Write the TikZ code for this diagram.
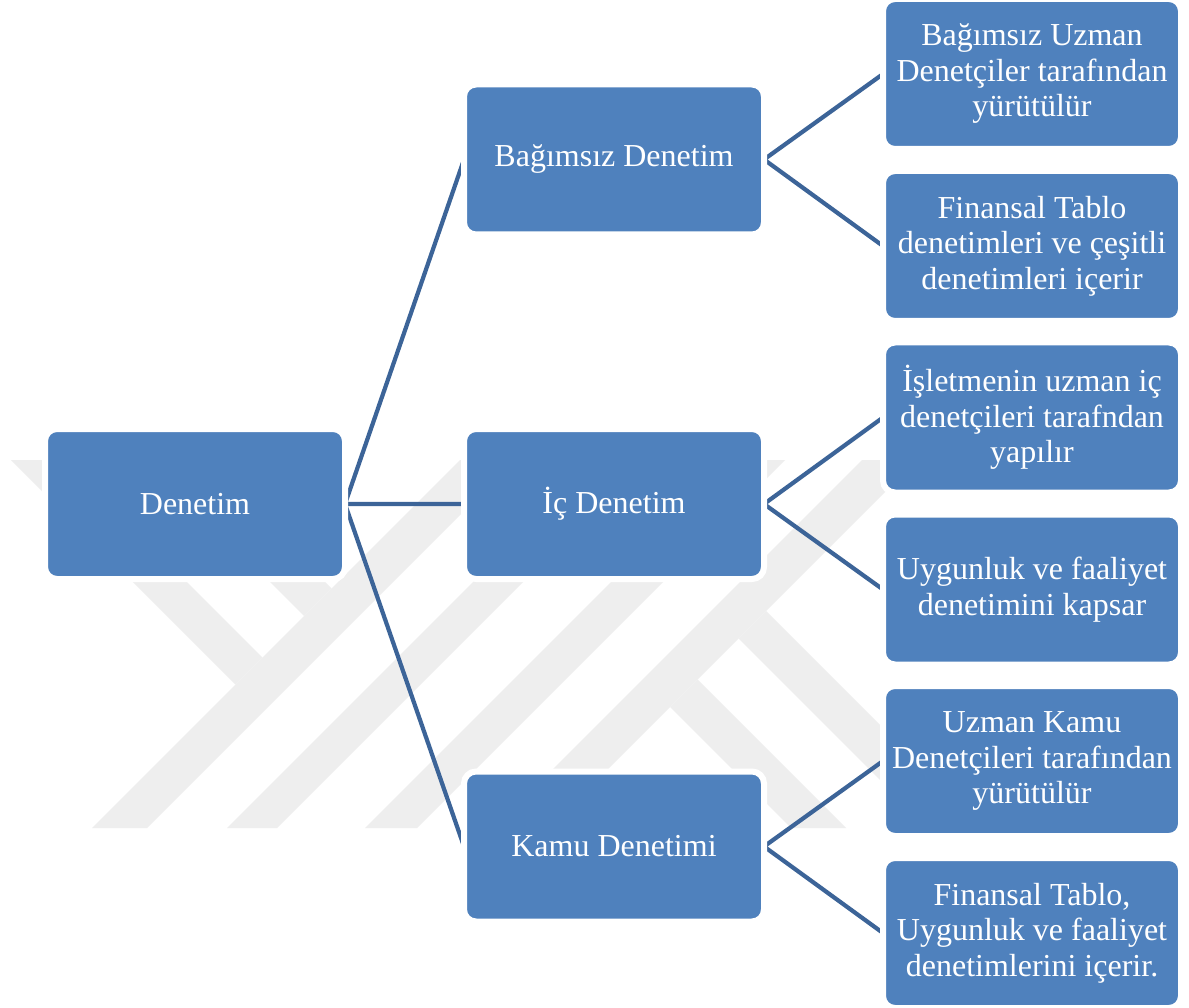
\documentclass[tikz,border=0pt]{standalone}
\usepackage{fontspec}
\setmainfont{Liberation Serif}
\definecolor{boxblue}{RGB}{79,129,189}
\definecolor{linkblue}{RGB}{60,100,152}
\definecolor{markgray}{RGB}{238,238,238}
\pgfdeclarelayer{watermark}
\pgfdeclarelayer{links}
\pgfsetlayers{watermark,links,main}
\begin{document}
\begin{tikzpicture}[x=1pt,y=-1pt,
  box/.style={draw=white, line width=6pt, fill=boxblue, rounded corners=12pt,
    text=white, align=center, font=\fontsize{32}{35.5}\selectfont,
    inner sep=0pt, outer sep=0pt, minimum width=300pt, minimum height=150pt},
  leaf/.style={box, minimum width=298pt},
  link/.style={draw=linkblue, line width=4.2pt}]
\useasboundingbox (0,0) rectangle (1189,1008);

% faint emblem behind the chart: diagonal bands
\begin{pgfonlayer}{watermark}
  \fill[white] (0,0) rectangle (1189,1008);
  % bands rising to the right
  \fill[markgray] (460,460) -- (515,460) -- (147,828) -- (92,828) -- cycle;
  \fill[markgray] (595,460) -- (645,460) -- (277,828) -- (227,828) -- cycle;
  \fill[markgray] (733,460) -- (785,460) -- (417,828) -- (365,828) -- cycle;
  \fill[markgray] (862,460) -- (917,460) -- (549,828) -- (494,828) -- cycle;
  % bands falling to the right, left side
  \fill[markgray] (11,460) -- (65,460) -- (262.5,657.5) -- (235.5,684.5) -- cycle;
  \fill[markgray] (148,460) -- (203,460) -- (331.5,588.5) -- (304,616) -- cycle;
  % bands falling to the right, right side
  \fill[markgray] (670,707) -- (697.5,679.5) -- (846,828) -- (791,828) -- cycle;
  \fill[markgray] (738.5,638.5) -- (766,611) -- (983,828) -- (928,828) -- cycle;
\end{pgfonlayer}

% root
\node[box] (den) at (195,504) {Denetim};

% second level
\node[box] (bag)  at (614,159.5) {Bağımsız Denetim};
\node[box] (ic)   at (614,504)   {İç Denetim};
\node[box] (kamu) at (614,846.5) {Kamu Denetimi};

% third level
\node[leaf] (r1) at (1032,74)    {Bağımsız Uzman\\Denetçiler tarafından\\yürütülür};
\node[leaf] (r2) at (1032,246)   {Finansal Tablo\\denetimleri ve çeşitli\\denetimleri içerir};
\node[leaf] (r3) at (1032,417.5) {İşletmenin uzman iç\\denetçileri tarafndan\\yapılır};
\node[leaf] (r4) at (1032,589.5) {Uygunluk ve faaliyet\\denetimini kapsar};
\node[leaf] (r5) at (1032,761)   {Uzman Kamu\\Denetçileri tarafından\\yürütülür};
\node[leaf] (r6) at (1032,933)   {Finansal Tablo,\\Uygunluk ve faaliyet\\denetimlerini içerir.};

% connectors
\begin{pgfonlayer}{links}
  \draw[link] (bag.west) -- (den.east) -- (ic.west);
  \draw[link] (den.east) -- (kamu.west);
  \draw[link] (r1.west) -- (bag.east) -- (r2.west);
  \draw[link] (r3.west) -- (ic.east) -- (r4.west);
  \draw[link] (r5.west) -- (kamu.east) -- (r6.west);
\end{pgfonlayer}
\end{tikzpicture}
\end{document}
